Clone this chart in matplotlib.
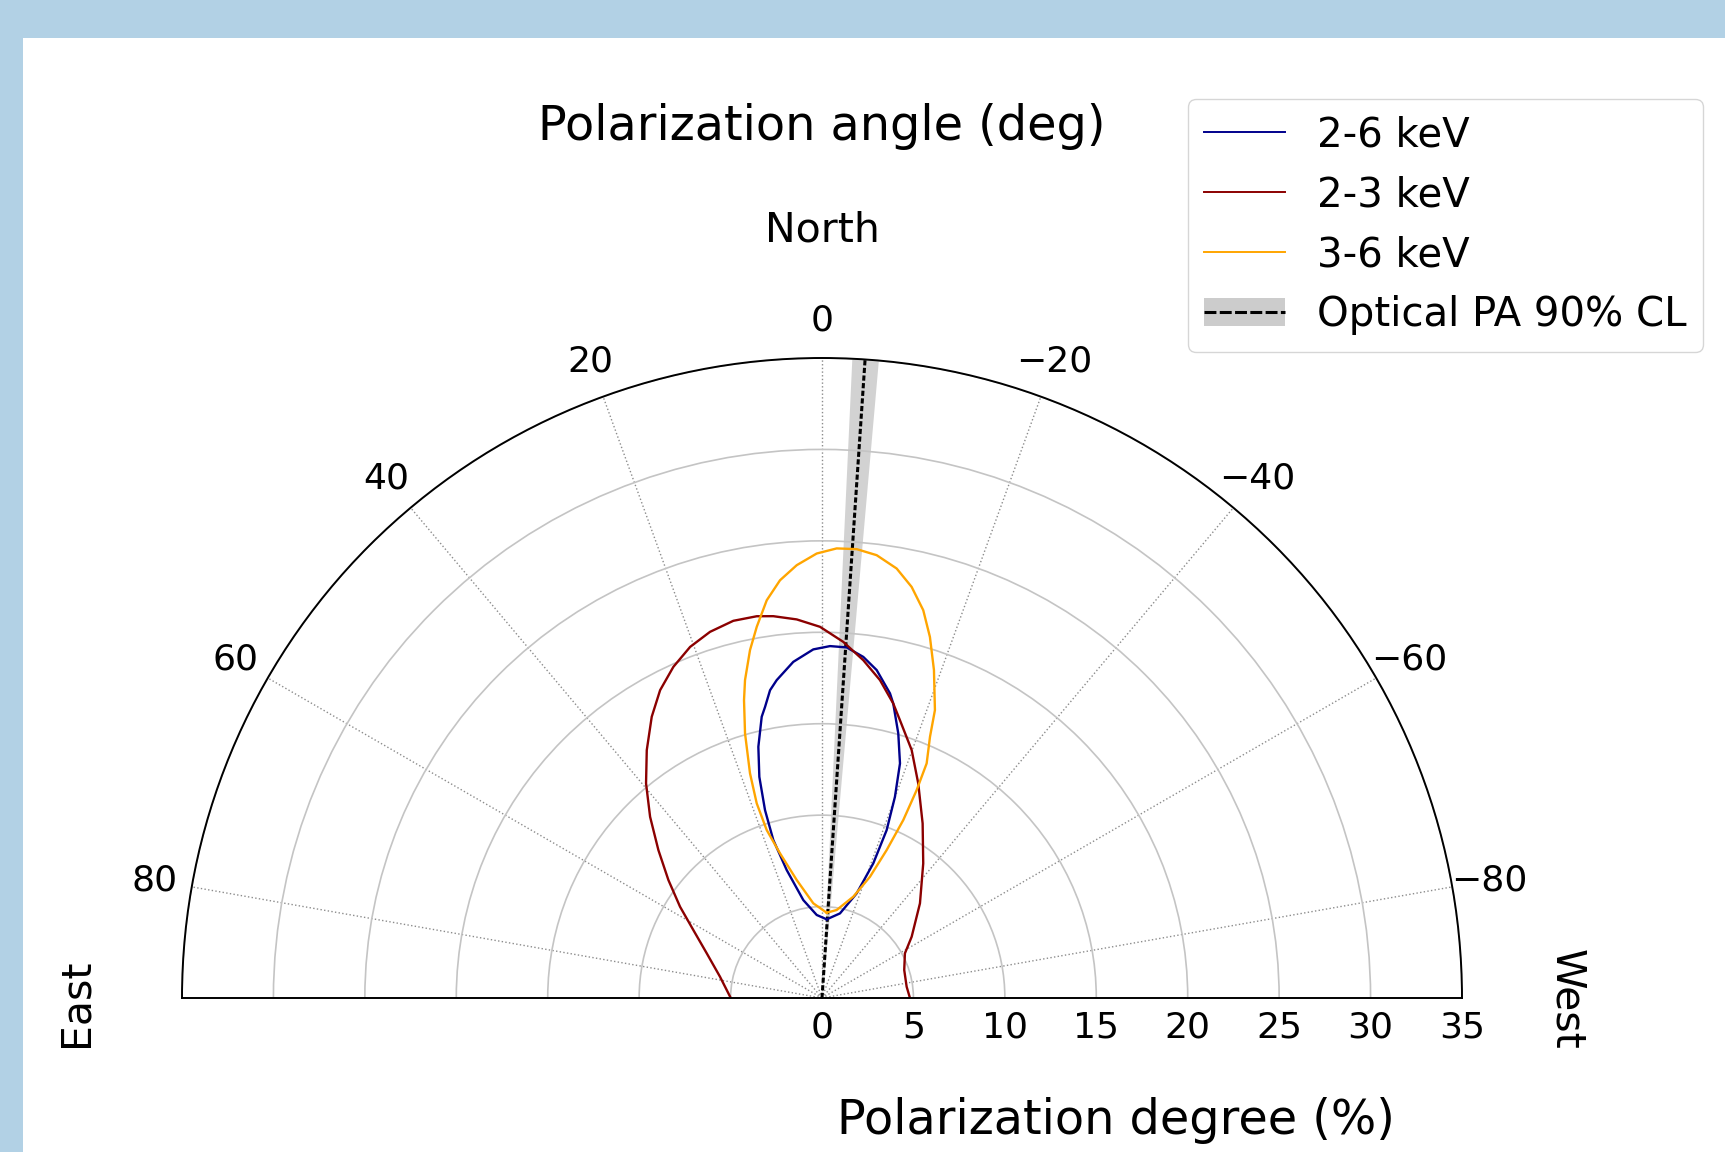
import numpy as np
import matplotlib
matplotlib.use("Agg")
import matplotlib.pyplot as plt
from matplotlib.lines import Line2D
from matplotlib.patches import Patch, Rectangle

# contours: polarization angle (deg), polarization degree (%)
pa_2_6 = [-3.42, 3.65, 10.80, 15.42, 17.13, 16.87, 15.82, 14.22, 12.10, 11.07, 9.58,
          8.11, 4.88, 1.43, -1.30, -4.03, -6.90, -9.47, -12.58, -13.60, -16.08,
          -18.39, -19.93, -21.06, -20.85, -18.33, -12.00, -3.42]
pd_2_6 = [4.31, 4.55, 5.45, 7.26, 9.04, 10.74, 12.57, 14.17, 15.73, 16.22, 17.07,
          17.56, 18.45, 19.07, 19.25, 19.22, 18.79, 18.18, 17.07, 16.57, 15.06,
          13.52, 11.70, 9.84, 7.88, 6.03, 4.73, 4.31]

pa_2_3 = [90.0, 78.20, 68.81, 62.15, 57.26, 52.48, 47.89, 43.49, 39.34, 35.26, 31.19,
          27.74, 24.17, 20.59, 17.00, 13.23, 9.70, 7.27, 3.82, 0.31, -3.42, -6.97,
          -10.34, -13.60, -15.67, -19.88, -24.16, -29.96, -36.95, -45.98, -55.65,
          -61.70, -71.21, -82.40, -90.0]
pd_2_3 = [4.99, 5.70, 6.76, 7.96, 9.23, 10.59, 12.06, 13.66, 15.18, 16.60, 17.98,
          19.02, 19.85, 20.51, 20.94, 21.19, 21.18, 21.05, 20.75, 20.30, 19.51, 18.61,
          17.67, 16.57, 15.78, 14.42, 12.86, 11.02, 9.21, 7.45, 5.94,
          5.15, 4.75, 4.67, 4.81]

pa_3_6 = [-3.15, 5.25, 12.10, 16.19, 18.22, 18.54, 17.77, 16.22, 14.67, 13.61, 11.69,
          9.97, 7.91, 5.74, 3.34, 0.68, -1.87, -4.42, -7.04, -9.86, -12.30, -14.63,
          -16.64, -18.85, -21.42, -22.46, -24.04, -24.48, -24.55, -23.61, -21.59,
          -17.17, -9.48, -3.15]
pd_3_6 = [4.67, 5.20, 6.60, 8.24, 9.67, 11.23, 12.90, 15.07, 16.84, 17.89, 19.43,
          20.61, 21.96, 22.96, 23.71, 24.31, 24.60, 24.62, 24.40, 23.84, 23.01, 21.92,
          20.61, 18.95, 16.91, 15.46, 14.05, 12.49, 10.70, 8.83, 7.13,
          5.80, 4.88, 4.67]

# optical polarization angle and its 90% interval (deg)
opt_pa = -3.86
opt_lo, opt_hi = -5.05, -2.67

r_max = 35
r_ticks = list(range(0, 36, 5))
theta_ticks = list(range(-80, 81, 20))

fig = plt.figure(figsize=(17.25, 11.52), dpi=100, facecolor='#b2d1e5')
fig.add_artist(Rectangle((23 / 1725, 0), 1, 1 - 38 / 1152, transform=fig.transFigure,
                         facecolor='white', edgecolor='none', zorder=-1))

# square box: the half disc fills its width and sits in the middle
ax = fig.add_axes([182 / 1725, -166 / 1152, 1280 / 1725, 1280 / 1152], projection='polar')
ax.set_thetamin(-90)
ax.set_thetamax(90)
ax.set_theta_zero_location('N')
ax.set_rlim(0, r_max)
ax.set_rticks(r_ticks)
ax.set_thetagrids(theta_ticks, labels=[str(t).replace('-', '\u2212') for t in theta_ticks])
ax.xaxis.grid(True, linestyle=':', color='#8c8c8c', lw=1.0)
ax.yaxis.grid(True, linestyle='-', color='#c4c4c4', lw=1.2)
ax.tick_params(axis='x', labelsize=26, pad=16.7)
ax.tick_params(axis='y', labelsize=26, pad=5.5)
for sp in ax.spines.values():
    sp.set_linewidth(1.4)

ax.fill_between(np.radians([opt_lo, opt_hi]), 0, r_max, color='gray', alpha=0.35, lw=0)
ax.plot(np.radians([opt_pa, opt_pa]), [0, r_max], color='k', lw=2.2, ls=(0, (1.7, 0.8)))

ax.plot(np.radians(pa_2_6), pd_2_6, color='darkblue', lw=1.7)
ax.plot(np.radians(pa_2_3), pd_2_3, color='darkred', lw=1.7)
ax.plot(np.radians(pa_3_6), pd_3_6, color='orange', lw=1.7)

handles = [Line2D([], [], color='darkblue', lw=1.4),
           Line2D([], [], color='darkred', lw=1.4),
           Line2D([], [], color='orange', lw=1.4),
           (Patch(facecolor='gray', alpha=0.4),
            Line2D([], [], color='k', lw=2.2, ls=(0, (3.9, 1.1))))]
labels = ['2-6 keV', '2-3 keV', '3-6 keV', 'Optical PA 90% CL']
fig.legend(handles, labels, loc='upper right', bbox_to_anchor=(0.9872, 0.9141),
           fontsize=29, borderaxespad=0)

fig.text(822 / 1725, 1 - 127 / 1152, 'Polarization angle (deg)', ha='center', va='center', fontsize=34.4)
fig.text(822 / 1725, 1 - 230 / 1152, 'North', ha='center', va='center', fontsize=29.5)
fig.text(76 / 1725, 1 - 1003 / 1152, 'East', ha='center', va='center', fontsize=29.5, rotation=90)
fig.text(1566 / 1725, 1 - 999 / 1152, 'West', ha='center', va='center', fontsize=29.5, rotation=-90)
fig.text(1116 / 1725, 1 - 1121 / 1152, 'Polarization degree (%)', ha='center', va='center', fontsize=34.4)

fig.savefig('out.png', dpi=100, facecolor=fig.get_facecolor())
